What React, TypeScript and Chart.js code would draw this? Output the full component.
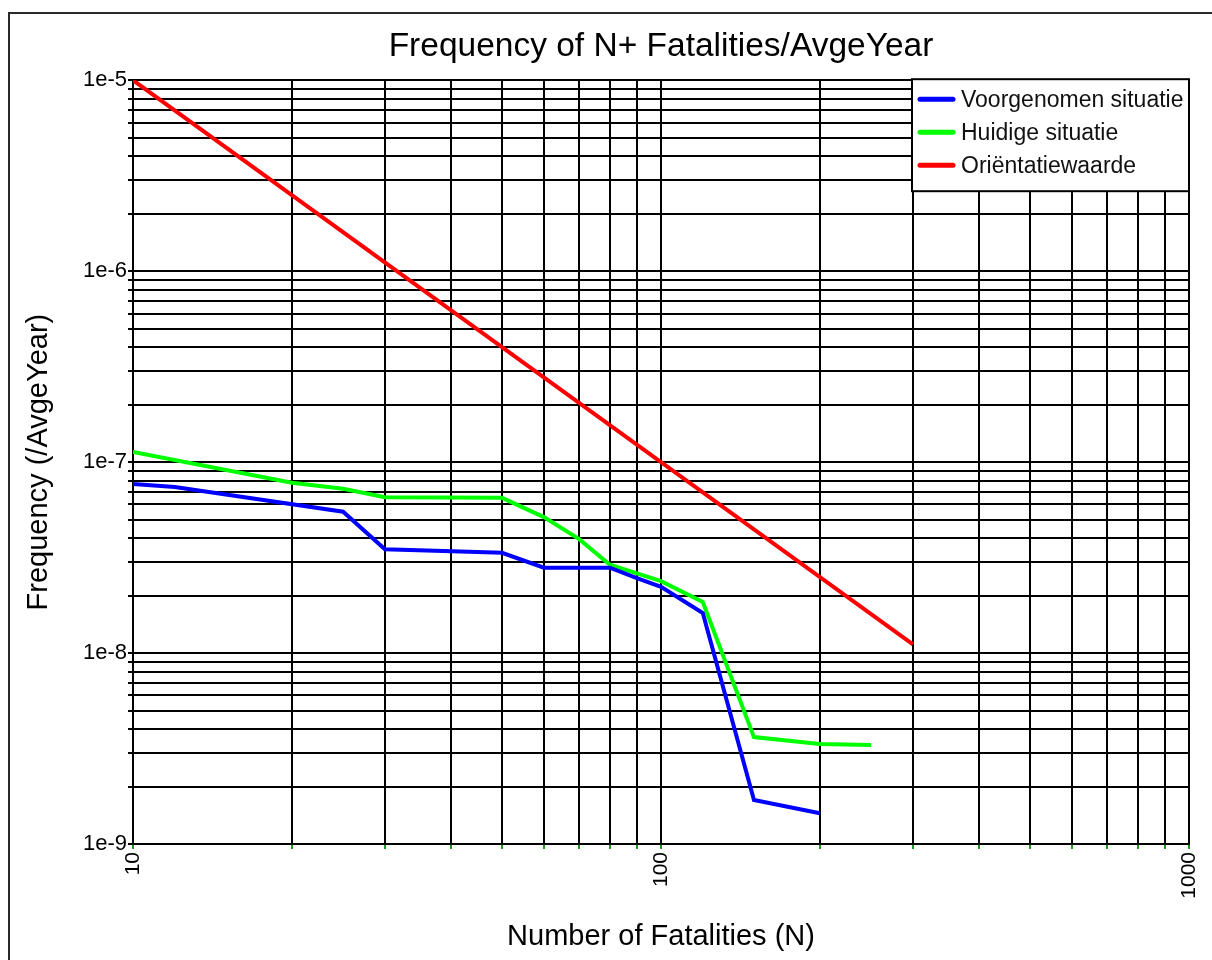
import React, { useEffect, useRef } from 'react';
import { Chart, registerables } from 'chart.js';

Chart.register(...registerables);

const FONT = '"Liberation Sans", Arial, Helvetica, sans-serif';

const chartTitle = 'Frequency of N+ Fatalities/AvgeYear';
const xAxisTitle = 'Number of Fatalities (N)';
const yAxisTitle = 'Frequency (/AvgeYear)';

const seriesLabels = ['Voorgenomen situatie', 'Huidige situatie', 'Oriëntatiewaarde'];
const seriesColors = ['#0000ff', '#00ff00', '#ff0000'];

const nVoorgenomen = [10, 12, 25, 30, 50, 60, 80, 90, 100, 120, 150, 200];
const fVoorgenomen = [7.67e-8, 7.4e-8, 5.5e-8, 3.5e-8, 3.35e-8, 2.8e-8, 2.8e-8, 2.47e-8, 2.22e-8, 1.62e-8, 1.7e-9, 1.45e-9];

const nHuidige = [10, 20, 25, 30, 50, 60, 70, 80, 100, 120, 150, 200, 250];
const fHuidige = [1.13e-7, 7.8e-8, 7.25e-8, 6.55e-8, 6.5e-8, 5.15e-8, 3.95e-8, 2.9e-8, 2.38e-8, 1.85e-8, 3.63e-9, 3.34e-9, 3.3e-9];

const nOrientatie = [10, 100, 300];
const fOrientatie = [1e-5, 1e-7, 1.11e-8];

const xTickValues = [10, 100, 1000];
const xTickLabels = ['10', '100', '1000'];
const yTickValues = [1e-9, 1e-8, 1e-7, 1e-6, 1e-5];
const yTickLabels = ['1e-9', '1e-8', '1e-7', '1e-6', '1e-5'];
const minorSteps = [1, 2, 3, 4, 5, 6, 7, 8, 9];

function decadeGrid(majors: number[]) {
  const out: { value: number }[] = [];
  for (let i = 0; i < majors.length; i++) {
    if (i === majors.length - 1) {
      out.push({ value: majors[i] });
      break;
    }
    for (const m of minorSteps) out.push({ value: majors[i] * m });
  }
  return out;
}

function labelFor(values: number[], labels: string[]) {
  return (v: any) => {
    const num = Number(v);
    for (let i = 0; i < values.length; i++) {
      if (Math.abs(num / values[i] - 1) < 1e-6) return labels[i];
    }
    return '';
  };
}

function toPoints(xs: number[], ys: number[]) {
  return xs.map((x, i) => ({ x, y: ys[i] }));
}

const framePlugin = {
  id: 'outerFrame',
  beforeDraw(chart: any) {
    const ctx = chart.ctx;
    ctx.save();
    ctx.fillStyle = '#ffffff';
    ctx.fillRect(0, 0, chart.width, chart.height);
    ctx.strokeStyle = '#2a2a2a';
    ctx.lineWidth = 2;
    ctx.strokeRect(9, 13, 1400, 1200);
    ctx.restore();
  },
};

const boxLegendPlugin = {
  id: 'boxLegend',
  afterDraw(chart: any) {
    const { ctx, chartArea } = chart;
    const w = 277;
    const h = 112;
    const left = chartArea.right - w;
    const top = chartArea.top - 1;
    ctx.save();
    ctx.fillStyle = '#ffffff';
    ctx.fillRect(left, top, w, h);
    ctx.strokeStyle = '#000000';
    ctx.lineWidth = 2;
    ctx.strokeRect(left, top, w, h);
    ctx.font = '23px ' + FONT;
    ctx.textBaseline = 'middle';
    ctx.textAlign = 'left';
    chart.data.datasets.forEach((ds: any, i: number) => {
      const y = top + 20 + i * 33;
      ctx.strokeStyle = ds.borderColor;
      ctx.lineWidth = 5;
      ctx.lineCap = 'round';
      ctx.beginPath();
      ctx.moveTo(left + 8, y);
      ctx.lineTo(left + 41, y);
      ctx.stroke();
      ctx.fillStyle = '#111111';
      ctx.fillText(ds.label, left + 49, y + 1);
    });
    ctx.restore();
  },
};

export default function App() {
  const canvasRef = useRef<HTMLCanvasElement | null>(null);

  useEffect(() => {
    const canvas = canvasRef.current;
    if (!canvas) return;
    const seriesX = [nVoorgenomen, nHuidige, nOrientatie];
    const seriesY = [fVoorgenomen, fHuidige, fOrientatie];
    const chart = new Chart(canvas, {
      type: 'line',
      data: {
        datasets: seriesLabels.map((label, i) => ({
          label,
          data: toPoints(seriesX[i], seriesY[i]),
          borderColor: seriesColors[i],
          backgroundColor: seriesColors[i],
          borderWidth: 4,
          pointRadius: 0,
          pointHoverRadius: 0,
          fill: false,
          tension: 0,
        })),
      },
      options: {
        animation: false,
        responsive: false,
        devicePixelRatio: 1,
        parsing: true,
        events: [],
        layout: { padding: { left: 0, right: 23, top: 0, bottom: 0 } },
        plugins: {
          legend: { display: false },
          tooltip: { enabled: false },
          title: {
            display: true,
            text: chartTitle,
            fullSize: false,
            color: '#000000',
            font: { family: FONT, size: 33.5, weight: 'normal' },
            padding: { top: 27, bottom: 13 },
          },
        },
        scales: {
          x: {
            type: 'logarithmic',
            position: 'bottom',
            min: 10,
            max: 1000,
            afterBuildTicks: (scale: any) => {
              scale.ticks = decadeGrid(xTickValues);
            },
            afterFit: (scale: any) => {
              scale.height = 116;
              scale.paddingLeft = 0;
              scale.paddingRight = 0;
            },
            ticks: {
              autoSkip: false,
              minRotation: 90,
              maxRotation: 90,
              padding: 3,
              color: '#000000',
              font: { family: FONT, size: 21 },
              callback: labelFor(xTickValues, xTickLabels),
            },
            grid: {
              color: '#000000',
              lineWidth: 2,
              drawTicks: true,
              tickLength: 5,
              tickColor: '#1f9a1f',
              tickWidth: 2,
            },
            border: { display: true, color: '#000000', width: 2 },
            title: {
              display: true,
              text: xAxisTitle,
              color: '#000000',
              font: { family: FONT, size: 29 },
              padding: { top: 0, bottom: 6 },
            },
          },
          y: {
            type: 'logarithmic',
            position: 'left',
            min: 1e-9,
            max: 1e-5,
            afterBuildTicks: (scale: any) => {
              scale.ticks = decadeGrid(yTickValues);
            },
            afterFit: (scale: any) => {
              scale.width = 133;
              scale.paddingTop = 0;
              scale.paddingBottom = 0;
            },
            ticks: {
              autoSkip: false,
              padding: 1,
              color: '#000000',
              font: { family: FONT, size: 22 },
              callback: labelFor(yTickValues, yTickLabels),
            },
            grid: {
              color: '#000000',
              lineWidth: 2,
              drawTicks: true,
              tickLength: 5,
              tickColor: '#000000',
              tickWidth: 2,
            },
            border: { display: true, color: '#000000', width: 2 },
            title: {
              display: true,
              text: yAxisTitle,
              color: '#000000',
              font: { family: FONT, size: 29 },
              padding: { top: 22, bottom: 0 },
            },
          },
        },
      },
      plugins: [framePlugin, boxLegendPlugin],
    } as any);
    return () => {
      chart.destroy();
    };
  }, []);

  return (
    <div style={{ position: 'absolute', left: 0, top: 0, width: 1212, height: 960, overflow: 'hidden', background: '#fff' }}>
      <canvas ref={canvasRef} width={1212} height={960} style={{ width: 1212, height: 960, display: 'block' }} />
    </div>
  );
}
